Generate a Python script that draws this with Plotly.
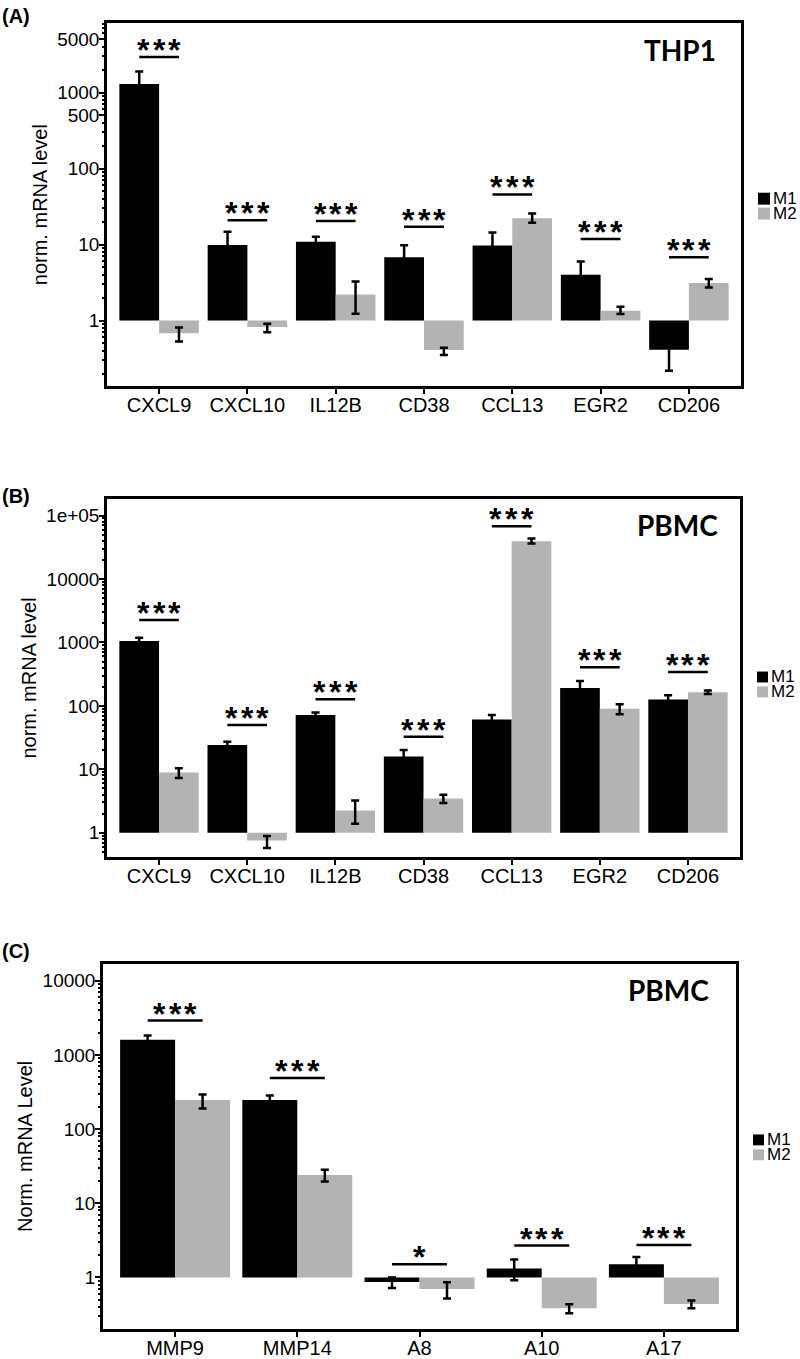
import numpy as np
import plotly.graph_objects as go

W, H = 800, 1359
FONT = "Liberation Sans, Arial, sans-serif"
GRAY = "#b3b3b3"

# ---------------- Panel A (THP1) ----------------
genes_a = ["CXCL9", "CXCL10", "IL12B", "CD38", "CCL13", "EGR2", "CD206"]
a_m1 = [1300, 9.85, 10.9, 6.8, 9.7, 4.0, 0.414]
a_m1_err_plus = [600, 4.9, 1.8, 3.0, 4.7, 2.0, 0.196]
a_m1_err_minus = [600, 4.9, 1.8, 3.0, 4.7, 2.0, 0.196]
a_m2 = [0.68, 0.82, 2.21, 0.41, 22.2, 1.35, 3.11]
a_m2_err_plus = [0.13, 0.09, 1.06, 0.03, 3.4, 0.17, 0.40]
a_m2_err_minus = [0.15, 0.12, 0.98, 0.057, 2.9, 0.13, 0.38]
a_sig_y = [2950, 20.9, 20.5, 17.1, 45.7, 11.8, 6.8]
a_sig = ["***", "***", "***", "***", "***", "***", "***"]
a_tickvals = [1, 10, 100, 500, 1000, 5000]
a_ticktext = ["1", "10", "100", "500", "1000", "5000"]

# ---------------- Panel B (PBMC) ----------------
genes_b = ["CXCL9", "CXCL10", "IL12B", "CD38", "CCL13", "EGR2", "CD206"]
b_m1 = [1050, 24.2, 71.5, 15.9, 61.2, 191, 126]
b_m1_err_plus = [130, 3.0, 7.3, 4.3, 10.3, 55, 21]
b_m1_err_minus = [130, 3.0, 7.3, 4.3, 10.3, 55, 21]
b_m2 = [8.9, 0.757, 2.24, 3.45, 39500, 89.7, 164]
b_m2_err_plus = [1.5, 0.13, 0.97, 0.53, 4100, 16, 10]
b_m2_err_minus = [1.6, 0.18, 0.86, 0.5, 3100, 16, 10]
b_sig_y = [2260, 49.8, 127, 32.7, 67900, 408, 341]
b_sig = ["***", "***", "***", "***", "***", "***", "***"]
b_tickvals = [1, 10, 100, 1000, 10000, 100000]
b_ticktext = ["1", "10", "100", "1000", "10000", "1e+05"]

# ---------------- Panel C (PBMC) ----------------
genes_c = ["MMP9", "MMP14", "A8", "A10", "A17"]
c_m1 = [1600, 246, 0.87, 1.32, 1.51]
c_m1_err_plus = [230, 38, 0.13, 0.42, 0.38]
c_m1_err_minus = [230, 38, 0.15, 0.40, 0.38]
c_m2 = [246, 24, 0.70, 0.384, 0.44]
c_m2_err_plus = [47, 4.4, 0.16, 0.05, 0.05]
c_m2_err_minus = [56, 4.4, 0.18, 0.055, 0.056]
c_sig_y = [2910, 490, 1.51, 2.69, 2.74]
c_sig = ["***", "***", "*", "***", "***"]
c_tickvals = [1, 10, 100, 1000, 10000]
c_ticktext = ["1", "10", "100", "1000", "10000"]

series_names = ["M1", "M2"]

panels = [
    dict(cats=genes_a, m1=a_m1, m1p=a_m1_err_plus, m1m=a_m1_err_minus,
         m2=a_m2, m2p=a_m2_err_plus, m2m=a_m2_err_minus, sig_y=a_sig_y, sig=a_sig,
         tv=a_tickvals, tt=a_ticktext, ylog=[-0.867, 3.918],
         xpx=[107, 741], ypx=[23, 389], ytitle="norm. mRNA level",
         label="(A)", label_y=16, cell="THP1", cell_x=718, cell_y=50,
         leg_x=758, leg_y=[194, 209], leg_s=12),
    dict(cats=genes_b, m1=b_m1, m1p=b_m1_err_plus, m1m=b_m1_err_minus,
         m2=b_m2, m2p=b_m2_err_plus, m2m=b_m2_err_minus, sig_y=b_sig_y, sig=b_sig,
         tv=b_tickvals, tt=b_ticktext, ylog=[-0.387, 5.266],
         xpx=[107, 740], ypx=[502, 863], ytitle="norm. mRNA level",
         label="(B)", label_y=499, cell="PBMC", cell_x=720, cell_y=528,
         leg_x=757, leg_y=[676, 691], leg_s=11),
    dict(cats=genes_c, m1=c_m1, m1p=c_m1_err_plus, m1m=c_m1_err_minus,
         m2=c_m2, m2p=c_m2_err_plus, m2m=c_m2_err_minus, sig_y=c_sig_y, sig=c_sig,
         tv=c_tickvals, tt=c_ticktext, ylog=[-0.697, 4.232],
         xpx=[103, 736], ypx=[970, 1338], ytitle="Norm. mRNA Level",
         label="(C)", label_y=957, cell="PBMC", cell_x=711, cell_y=997,
         leg_x=753, leg_y=[1142, 1157], leg_s=11),
]

fig = go.Figure()
shapes = []
annotations = []

def px_x(v):
    return v / W

def px_y(v):
    return 1 - v / H

HALF = 0.225   # half of a bar group (bargap 0.1, two bars)
STAR_PITCH = 15.7

for k, p in enumerate(panels, start=1):
    xa = "x" if k == 1 else f"x{k}"
    ya = "y" if k == 1 else f"y{k}"
    n = len(p["cats"])
    xs = list(range(n))
    for name, vals, ep, em, col in [
        ("M1", p["m1"], p["m1p"], p["m1m"], "black"),
        ("M2", p["m2"], p["m2p"], p["m2m"], GRAY),
    ]:
        fig.add_trace(go.Bar(
            x=xs, y=[v - 1 for v in vals], base=1, name=name,
            marker=dict(color=col, line=dict(width=0)),
            error_y=dict(type="data", array=ep, arrayminus=em, symmetric=False,
                         color="black", thickness=2.5, width=4),
            xaxis=xa, yaxis=ya, showlegend=False,
        ))
    # significance brackets and stars
    for i, (sy, st) in enumerate(zip(p["sig_y"], p["sig"])):
        shapes.append(dict(type="line", xref=xa, yref=ya, x0=i - HALF, x1=i + HALF,
                           y0=sy, y1=sy, line=dict(color="black", width=2.5)))
        m = len(st)
        for j, ch in enumerate(st):
            annotations.append(dict(xref=xa, yref=ya, x=i, y=float(np.log10(sy)),
                                    text="<b>" + ch + "</b>", showarrow=False,
                                    xanchor="center", yanchor="middle",
                                    xshift=(j - (m - 1) / 2) * STAR_PITCH, yshift=7,
                                    font=dict(family=FONT, size=32, color="black")))
    # axes
    xdom = [px_x(p["xpx"][0]), px_x(p["xpx"][1])]
    ydom = [px_y(p["ypx"][1]), px_y(p["ypx"][0])]
    axkey = "xaxis" if k == 1 else f"xaxis{k}"
    aykey = "yaxis" if k == 1 else f"yaxis{k}"
    fig.layout[axkey] = dict(
        domain=xdom, anchor=ya, range=[-0.59, n - 0.41],
        tickmode="array", tickvals=xs, ticktext=p["cats"],
        showline=True, linecolor="black", linewidth=2.5, mirror=True,
        ticks="outside", ticklen=5, tickwidth=1.5, tickcolor="black",
        ticklabelstandoff=-6,
        showgrid=False, zeroline=False,
        tickfont=dict(family=FONT, size=20, color="black"),
    )
    fig.layout[aykey] = dict(
        domain=ydom, anchor=xa, type="log", range=p["ylog"],
        tickmode="array", tickvals=p["tv"], ticktext=p["tt"],
        showline=True, linecolor="black", linewidth=2.5, mirror=True,
        ticks="outside", ticklen=5, tickwidth=2, tickcolor="black",
        ticklabelstandoff=-4,
        minor=dict(ticks="outside", ticklen=2, tickwidth=1.5, tickcolor="black",
                   dtick="D1", showgrid=False),
        showgrid=False, zeroline=False,
        tickfont=dict(family=FONT, size=19, color="black"),
        title=dict(text=p["ytitle"], standoff=5,
                   font=dict(family=FONT, size=20, color="black")),
    )
    # panel label
    annotations.append(dict(xref="paper", yref="paper", x=0, y=px_y(p["label_y"]),
                            xanchor="left", yanchor="middle", showarrow=False,
                            text="<b>" + p["label"] + "</b>",
                            font=dict(family=FONT, size=20, color="black")))
    # cell type label
    annotations.append(dict(xref="paper", yref="paper", x=px_x(p["cell_x"]),
                            y=px_y(p["cell_y"]), xanchor="right", yanchor="middle",
                            showarrow=False, text="<b>" + p["cell"] + "</b>",
                            font=dict(family="Lato, Open Sans, sans-serif", size=28,
                                      color="black")))
    # legend (drawn manually, tightly packed like the original)
    s = p["leg_s"]
    for name, col, ly in zip(series_names, ["black", GRAY], p["leg_y"]):
        shapes.append(dict(type="rect", xref="paper", yref="paper",
                           x0=px_x(p["leg_x"]), x1=px_x(p["leg_x"] + s),
                           y0=px_y(ly + s), y1=px_y(ly),
                           fillcolor=col, line=dict(width=0)))
        annotations.append(dict(xref="paper", yref="paper", x=px_x(p["leg_x"] + s + 2),
                                y=px_y(ly + s / 2), xanchor="left", yanchor="middle",
                                showarrow=False, text=name, borderpad=0,
                                font=dict(family=FONT, size=17, color="black")))

fig.update_layout(
    width=W, height=H,
    margin=dict(l=0, r=0, t=0, b=0),
    paper_bgcolor="white", plot_bgcolor="white",
    barmode="group", bargap=0.1, bargroupgap=0,
    shapes=shapes, annotations=annotations,
    showlegend=False,
    font=dict(family=FONT, size=19, color="black"),
)

fig.write_html(
    "out.html",
    config={"displayModeBar": False},
    post_script="document.body.style.margin='0';document.body.style.overflow='hidden';",
)
